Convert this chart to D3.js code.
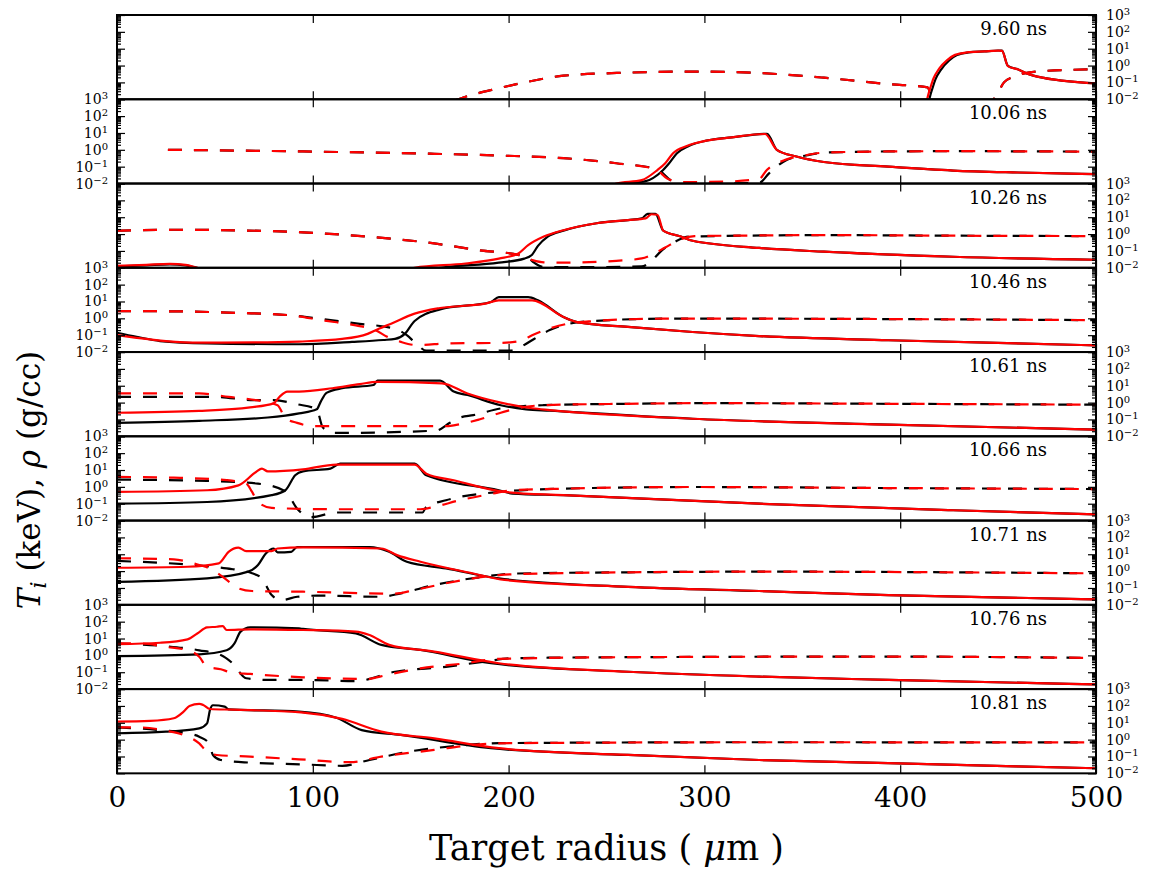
<!DOCTYPE html>
<html><head><meta charset="utf-8">
<script src="https://cdn.jsdelivr.net/npm/d3@7"></script>
<style>
body{margin:0;background:#fff}
svg{display:block}
text{font-family:"DejaVu Serif",serif;fill:#000}
</style>
</head><body>
<svg id="chart" width="1151" height="869"></svg>
<script>
// ---------- labels ----------
const timeLabels = ["9.60 ns","10.06 ns","10.26 ns","10.46 ns","10.61 ns","10.66 ns","10.71 ns","10.76 ns","10.81 ns"];
const xTickValues = [0,100,200,300,400,500];
const yMajorTicks = [1e-2,1e-1,1,1e1,1e2,1e3];
const yTickExponents = ["\u22122","\u22121","0","1","2","3"];

// ---------- data: [radius (um), value] ----------
// 9.60 ns
const t960_TiBlack = [[0,0.003],[413,0.003],[416,0.03],[418,0.15],[421,0.6],[425,2.0],[429,4.2],[435,6.0],[443,6.9],[450,7.8],[452,7.6],[455,0.95],[460,0.6],[466,0.3],[470,0.22],[500,0.087]];
const t960_RhoBlack = [[172,0.008],[178,0.014],[195,0.045],[210,0.11],[228,0.25],[261,0.38],[294,0.44],[328,0.36],[361,0.19],[394,0.079],[414,0.051],[417,0.005],[445,0.005],[449,0.016],[453,0.1],[458,0.22],[462,0.32],[470,0.45],[500,0.6]];
const t960_TiRed = [[0,0.003],[412,0.003],[415,0.035],[417,0.17],[420,0.68],[424,2.1],[428,4.3],[434,6.0],[443,6.9],[450,7.6],[452,7.4],[455,0.93],[460,0.6],[466,0.3],[470,0.22],[500,0.087]];
const t960_RhoRed = [[172,0.008],[178,0.014],[195,0.045],[210,0.11],[228,0.25],[261,0.38],[294,0.44],[328,0.36],[361,0.19],[394,0.079],[414,0.051],[417,0.005],[445,0.005],[449,0.016],[453,0.1],[458,0.22],[462,0.32],[470,0.45],[500,0.6]];
// 10.06 ns
const t1006_TiBlack = [[0,0.003],[253,0.005],[258,0.01],[270,0.014],[278,0.05],[282,0.16],[286,0.63],[292,1.7],[301,3.5],[314,5.5],[332,9.0],[337,1.0],[347,0.4],[361,0.19],[394,0.1],[427,0.059],[460,0.045],[500,0.036]];
const t1006_RhoBlack = [[26,1.0],[95,0.8],[162,0.58],[195,0.46],[228,0.32],[255,0.16],[276,0.07],[283,0.015],[290,0.009],[311,0.01],[328,0.011],[333,0.04],[342,0.25],[352,0.46],[361,0.68],[394,0.8],[427,0.83],[500,0.78]];
const t1006_TiRed = [[0,0.003],[250,0.005],[255,0.01],[268,0.016],[276,0.063],[280,0.16],[284,0.63],[291,1.7],[301,3.5],[314,5.5],[331,8.7],[337,1.0],[347,0.4],[361,0.19],[394,0.1],[427,0.059],[460,0.045],[500,0.036]];
const t1006_RhoRed = [[26,1.0],[95,0.8],[162,0.58],[195,0.46],[228,0.32],[255,0.16],[275,0.071],[281,0.02],[288,0.012],[311,0.013],[328,0.019],[332,0.066],[341,0.25],[351,0.46],[361,0.68],[394,0.8],[427,0.83],[500,0.78]];
// 10.26 ns
const t1026_TiBlack = [[0,0.012],[15,0.014],[27,0.016],[35,0.014],[42,0.009],[50,0.005],[150,0.005],[165,0.01],[195,0.02],[208,0.035],[212,0.06],[215,0.2],[220,0.7],[228,1.6],[245,4.4],[261,6.8],[268,8.5],[271,16],[275,16],[279,1.6],[288,0.72],[294,0.4],[328,0.15],[361,0.09],[427,0.045],[500,0.03]];
const t1026_RhoBlack = [[0,1.6],[29,1.8],[62,1.66],[95,1.26],[129,0.69],[162,0.28],[185,0.11],[205,0.058],[210,0.04],[213,0.02],[218,0.011],[240,0.011],[268,0.012],[272,0.02],[278,0.1],[285,0.35],[292,0.7],[330,0.83],[360,0.87],[430,0.8],[500,0.76]];
const t1026_TiRed = [[0,0.013],[15,0.015],[27,0.017],[35,0.015],[42,0.009],[50,0.005],[140,0.005],[152,0.01],[178,0.018],[195,0.035],[205,0.071],[210,0.22],[218,0.71],[228,1.7],[245,4.4],[261,6.8],[270,8.5],[273,15],[276,14],[279,1.6],[288,0.72],[294,0.4],[328,0.15],[361,0.09],[427,0.045],[500,0.03]];
const t1026_RhoRed = [[0,1.6],[29,1.8],[62,1.66],[95,1.26],[129,0.69],[162,0.28],[185,0.11],[205,0.058],[212,0.029],[218,0.021],[228,0.02],[255,0.026],[268,0.036],[273,0.058],[280,0.16],[288,0.5],[295,0.76],[330,0.83],[360,0.87],[430,0.8],[500,0.76]];
// 10.46 ns
const t1046_TiBlack = [[0,0.14],[10,0.08],[22,0.045],[46,0.033],[93,0.029],[120,0.04],[136,0.052],[142,0.06],[147,0.12],[152,0.7],[165,3.4],[191,9.3],[195,18],[210,18],[215,11.7],[228,1.2],[235,0.6],[261,0.31],[294,0.155],[328,0.089],[394,0.05],[500,0.025]];
const t1046_RhoBlack = [[0,2.7],[29,2.6],[62,2.1],[89,1.5],[105,0.9],[122,0.5],[142,0.24],[148,0.1],[153,0.03],[158,0.012],[201,0.012],[206,0.02],[213,0.06],[221,0.2],[231,0.48],[241,0.66],[278,0.95],[328,0.95],[427,0.87],[500,0.78]];
const t1046_TiRed = [[0,0.1],[10,0.07],[25,0.045],[42,0.036],[70,0.037],[93,0.042],[115,0.06],[128,0.12],[134,0.25],[140,0.48],[152,1.9],[165,4.1],[188,7.4],[195,11.7],[212,11.7],[228,1.2],[235,0.6],[261,0.31],[294,0.155],[328,0.089],[394,0.05],[500,0.025]];
const t1046_RhoRed = [[0,2.7],[29,2.6],[62,2.1],[89,1.5],[105,0.76],[122,0.38],[132,0.2],[138,0.08],[145,0.04],[153,0.026],[170,0.033],[196,0.035],[206,0.045],[212,0.1],[221,0.25],[231,0.5],[241,0.66],[278,0.95],[328,0.95],[427,0.87],[500,0.78]];
// 10.61 ns
const t1061_TiBlack = [[0,0.063],[42,0.083],[77,0.13],[93,0.23],[102,0.4],[104,1.1],[107,3.8],[115,7.1],[131,11],[133,20],[165,20],[172,4.5],[179,2.8],[196,0.7],[209,0.4],[221,0.33],[294,0.11],[394,0.049],[500,0.025]];
const t1061_RhoBlack = [[0,2.2],[50,2.2],[70,1.4],[80,1.4],[92,0.8],[102,0.4],[105,0.035],[110,0.016],[116,0.016],[163,0.022],[170,0.063],[175,0.126],[182,0.18],[196,0.45],[206,0.6],[218,0.7],[260,0.85],[300,0.93],[394,0.85],[500,0.75]];
const t1061_TiRed = [[0,0.25],[42,0.32],[68,0.52],[80,0.9],[83,2.2],[87,4.5],[93,4.5],[110,7.1],[124,12.6],[133,17],[166,14],[179,3.5],[196,1.0],[212,0.46],[221,0.36],[294,0.11],[394,0.049],[500,0.025]];
const t1061_RhoRed = [[0,3.5],[42,3.5],[57,2.2],[71,1.4],[82,0.7],[86,0.12],[92,0.063],[100,0.04],[130,0.04],[168,0.04],[172,0.045],[185,0.1],[196,0.25],[206,0.5],[218,0.7],[260,0.85],[300,0.93],[394,0.85],[500,0.75]];
// 10.66 ns
const t1066_TiBlack = [[0,0.1],[46,0.126],[79,0.32],[86,0.63],[91,4.9],[95,8.3],[109,12],[114,24],[152,24],[158,4.9],[195,0.63],[202,0.4],[228,0.32],[328,0.1],[427,0.041],[500,0.023]];
const t1066_RhoBlack = [[0,2.7],[46,2.24],[72,1.55],[86,0.55],[92,0.051],[99,0.016],[112,0.03],[156,0.03],[158,0.065],[168,0.16],[195,0.5],[228,0.78],[294,0.98],[394,0.85],[500,0.74]];
const t1066_TiRed = [[0,0.5],[46,0.63],[62,1.23],[71,7.6],[74,12],[77,8.3],[95,11],[112,21],[152,21],[158,6.0],[172,2.45],[198,0.5],[228,0.32],[328,0.1],[427,0.041],[500,0.023]];
const t1066_RhoRed = [[0,3.9],[29,3.5],[56,2.5],[66,1.55],[69,0.5],[72,0.126],[79,0.056],[112,0.047],[155,0.047],[162,0.065],[175,0.16],[192,0.4],[202,0.63],[228,0.78],[294,0.98],[394,0.85],[500,0.74]];
// 10.71 ns
const t1071_TiBlack = [[0,0.23],[46,0.37],[67,0.93],[72,2.3],[76,11],[80,22],[82,13],[89,14],[92,27],[129,27],[139,14],[148,3.6],[168,1.45],[195,0.37],[261,0.117],[328,0.066],[394,0.038],[500,0.021]];
const t1071_RhoBlack = [[0,4.0],[39,2.3],[56,1.45],[69,0.74],[74,0.37],[79,0.038],[84,0.019],[92,0.03],[102,0.035],[135,0.03],[145,0.048],[162,0.15],[185,0.43],[202,0.71],[261,0.85],[328,0.93],[500,0.74]];
const t1071_TiRed = [[0,1.58],[36,1.82],[52,2.9],[57,14],[62,24.5],[66,15.5],[79,15.5],[82,22],[95,25.7],[135,22],[143,8.9],[155,3.6],[182,0.72],[198,0.3],[261,0.117],[328,0.066],[394,0.038],[500,0.021]];
const t1071_RhoRed = [[0,5.8],[29,5.0],[39,2.9],[49,1.15],[56,0.3],[62,0.095],[69,0.066],[95,0.06],[142,0.046],[152,0.076],[168,0.19],[188,0.47],[202,0.65],[261,0.85],[328,0.93],[500,0.74]];
// 10.76 ns
const t1076_TiBlack = [[0,0.91],[42,1.15],[56,2.0],[60,5.1],[63,25],[68,46],[93,40],[95,37],[122,20],[135,4.2],[155,2.1],[191,0.34],[261,0.107],[328,0.055],[394,0.035],[500,0.019]];
const t1076_RhoBlack = [[0,5.1],[25,3.5],[42,2.0],[53,1.05],[59,0.34],[66,0.044],[77,0.035],[95,0.035],[122,0.03],[142,0.107],[168,0.21],[188,0.43],[202,0.68],[261,0.78],[394,0.85],[500,0.7]];
const t1076_TiRed = [[0,4.6],[22,5.6],[36,8.9],[41,20],[46,46],[51,50],[54,55],[56,32],[68,35],[95,32],[122,26],[129,16],[139,4.2],[162,1.66],[195,0.34],[261,0.107],[328,0.055],[394,0.035],[500,0.019]];
const t1076_RhoRed = [[0,5.1],[12,5.1],[25,3.2],[36,2.0],[42,0.83],[46,0.21],[53,0.15],[58,0.1],[68,0.079],[95,0.05],[129,0.04],[132,0.048],[155,0.17],[178,0.34],[195,0.62],[261,0.78],[394,0.85],[500,0.7]];
// 10.81 ns
const t1081_TiBlack = [[0,2.4],[25,2.95],[42,4.7],[46,9.3],[47.5,58],[49,110],[55,91],[57,63],[93,46],[112,20],[125,3.7],[145,1.9],[191,0.31],[261,0.123],[328,0.062],[394,0.04],[500,0.02]];
const t1081_RhoBlack = [[0,5.4],[25,3.4],[36,2.4],[42,1.5],[47,0.6],[49,0.123],[53,0.062],[68,0.043],[95,0.034],[115,0.028],[129,0.062],[149,0.195],[175,0.44],[195,0.62],[328,0.7],[500,0.68]];
const t1081_TiRed = [[0,11.7],[17,13],[29,18.6],[34,46],[37,100],[42,132],[44,115],[47.5,66],[59,60],[94,42],[115,17],[135,3.0],[162,1.2],[195,0.31],[261,0.123],[328,0.062],[394,0.04],[500,0.02]];
const t1081_RhoRed = [[0,5.4],[12,5.3],[25,3.4],[34,1.9],[42,0.6],[46,0.19],[51,0.123],[68,0.098],[93,0.068],[119,0.046],[135,0.098],[162,0.245],[182,0.49],[202,0.62],[328,0.7],[500,0.68]];

const panels = [
  {label: timeLabels[0], tiB: t960_TiBlack,  rhoB: t960_RhoBlack,  tiR: t960_TiRed,  rhoR: t960_RhoRed},
  {label: timeLabels[1], tiB: t1006_TiBlack, rhoB: t1006_RhoBlack, tiR: t1006_TiRed, rhoR: t1006_RhoRed},
  {label: timeLabels[2], tiB: t1026_TiBlack, rhoB: t1026_RhoBlack, tiR: t1026_TiRed, rhoR: t1026_RhoRed},
  {label: timeLabels[3], tiB: t1046_TiBlack, rhoB: t1046_RhoBlack, tiR: t1046_TiRed, rhoR: t1046_RhoRed},
  {label: timeLabels[4], tiB: t1061_TiBlack, rhoB: t1061_RhoBlack, tiR: t1061_TiRed, rhoR: t1061_RhoRed},
  {label: timeLabels[5], tiB: t1066_TiBlack, rhoB: t1066_RhoBlack, tiR: t1066_TiRed, rhoR: t1066_RhoRed},
  {label: timeLabels[6], tiB: t1071_TiBlack, rhoB: t1071_RhoBlack, tiR: t1071_TiRed, rhoR: t1071_RhoRed},
  {label: timeLabels[7], tiB: t1076_TiBlack, rhoB: t1076_RhoBlack, tiR: t1076_TiRed, rhoR: t1076_RhoRed},
  {label: timeLabels[8], tiB: t1081_TiBlack, rhoB: t1081_RhoBlack, tiR: t1081_TiRed, rhoR: t1081_RhoRed}
];

// ---------- layout ----------
const left = 117, right = 1096, top0 = 15, panelH = 84.26;
const svg = d3.select("#chart");
const x = d3.scaleLinear().domain([0,500]).range([left,right]);
const dash = "14,12";

function supLabels(sel, anchor){
  sel.selectAll(".tick text").each(function(d){
    const i = yMajorTicks.indexOf(d);
    const t = d3.select(this);
    t.text("").attr("text-anchor", anchor).style("font-size","14px");
    t.append("tspan").text("10");
    t.append("tspan").attr("dy","-0.5em").style("font-size","10px").text(yTickExponents[i]);
  });
}

panels.forEach((p, i) => {
  const top = top0 + i*panelH, bot = top + panelH;
  const y = d3.scaleLog().domain([1e-2,1e3]).range([bot, top]);
  const g = svg.append("g");

  const clipId = "clip"+i;
  svg.append("clipPath").attr("id", clipId).append("rect")
    .attr("x", left).attr("y", top).attr("width", right-left).attr("height", panelH);

  const line = d3.line().x(d => x(d[0])).y(d => y(d[1])).curve(d3.curveMonotoneX);
  const dg = g.append("g").attr("clip-path", `url(#${clipId})`)
    .attr("fill","none").attr("stroke-width",2.2).attr("stroke-linejoin","round");
  dg.append("path").attr("d", line(p.tiB)).attr("stroke","#000");
  dg.append("path").attr("d", line(p.rhoB)).attr("stroke","#000").attr("stroke-dasharray",dash);
  dg.append("path").attr("d", line(p.tiR)).attr("stroke","#ff0000");
  dg.append("path").attr("d", line(p.rhoR)).attr("stroke","#ff0000").attr("stroke-dasharray",dash);

  // minor / major y ticks
  const allT = y.ticks();
  const minorT = allT.filter(v => !yMajorTicks.some(m => Math.abs(m - v) < 1e-9*m));
  const labelLeft = (i % 2 === 1);

  g.append("g").attr("transform",`translate(${left},0)`)
    .call(d3.axisLeft(y).tickValues(minorT).tickSize(-4).tickFormat(""))
    .call(s => s.select(".domain").remove());
  g.append("g").attr("transform",`translate(${right},0)`)
    .call(d3.axisRight(y).tickValues(minorT).tickSize(-4).tickFormat(""))
    .call(s => s.select(".domain").remove());

  const la = g.append("g").attr("transform",`translate(${left},0)`)
    .call(d3.axisLeft(y).tickValues(yMajorTicks).tickSize(-8).tickPadding(9).tickFormat(labelLeft ? (d=>d) : ""))
    .call(s => s.select(".domain").remove());
  const ra = g.append("g").attr("transform",`translate(${right},0)`)
    .call(d3.axisRight(y).tickValues(yMajorTicks).tickSize(-8).tickPadding(10).tickFormat(labelLeft ? "" : (d=>d)))
    .call(s => s.select(".domain").remove());
  if (labelLeft) supLabels(la, "end"); else supLabels(ra, "start");

  // x ticks top & bottom (inward)
  g.append("g").attr("transform",`translate(0,${top})`)
    .call(d3.axisTop(x).tickValues(xTickValues).tickSize(-8).tickFormat(""))
    .call(s => s.select(".domain").remove());
  const bx = g.append("g").attr("transform",`translate(0,${bot})`)
    .call(d3.axisBottom(x).tickValues(xTickValues).tickSize(-8).tickPadding(14)
      .tickFormat(i === panels.length-1 ? d3.format("d") : ""))
    .call(s => s.select(".domain").remove());
  bx.selectAll("text").style("font-size","28px");

  g.selectAll(".tick line").attr("stroke","#000").attr("stroke-width",1.2);
  g.selectAll(".tick text").attr("fill","#000").style("font-family","'DejaVu Serif',serif");

  // frame
  g.append("rect").attr("x",left).attr("y",top).attr("width",right-left).attr("height",panelH)
    .attr("fill","none").attr("stroke","#000").attr("stroke-width",2);

  // time label
  g.append("text").attr("x",1047).attr("y",top+20).attr("text-anchor","end")
    .style("font-size","18px").text(p.label);
});

// axis titles
const xl = svg.append("text").attr("x",(left+right)/2).attr("y",860).attr("text-anchor","middle").style("font-size","35px");
xl.append("tspan").text("Target radius ( ");
xl.append("tspan").style("font-style","italic").text("\u03bc");
xl.append("tspan").text("m )");

const yl = svg.append("text").attr("transform","translate(40,480) rotate(-90)").attr("text-anchor","middle").style("font-size","31px");
yl.append("tspan").style("font-style","italic").text("T");
yl.append("tspan").style("font-style","italic").style("font-size","22px").attr("dy","0.25em").text("i");
yl.append("tspan").attr("dy","-0.18em").text(" (keV), ");
yl.append("tspan").style("font-style","italic").text("\u03c1");
yl.append("tspan").text(" (g/cc)");
</script>
</body></html>
